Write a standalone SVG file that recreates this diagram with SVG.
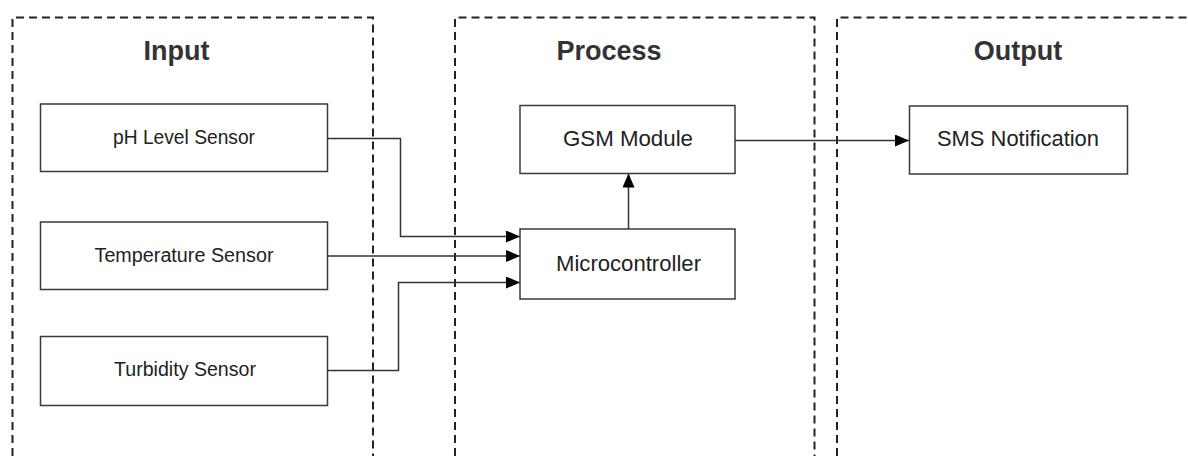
<svg xmlns="http://www.w3.org/2000/svg" width="1188" height="456" viewBox="0 0 1188 456">
  <style>
    .lane { fill: none; stroke: #222; stroke-width: 2; stroke-dasharray: 8 5; }
    .title { font-family: "Liberation Sans", Arial, sans-serif; font-weight: bold; font-size: 27px; fill: #333; text-anchor: middle; }
    .box { fill: #fff; stroke: #3a3a3a; stroke-width: 1.5; }
    .lbl { font-family: "Liberation Sans", Arial, sans-serif; fill: #222; text-anchor: middle; }
    .sm { font-size: 19.5px; }
    .lg { font-size: 22px; }
    .conn { fill: none; stroke: #333; stroke-width: 1.5; }
  </style>
  <defs>
    <marker id="arrow" viewBox="0 0 14 12" refX="14" refY="6" markerWidth="14" markerHeight="12" markerUnits="userSpaceOnUse" orient="auto">
      <path d="M0,0 L14,6 L0,12 z" fill="#000"/>
    </marker>
  </defs>
  <rect width="1188" height="456" fill="#fff"/>

  <g id="lanes">
    <g id="lane-input">
      <path class="lane" d="M12.5,456 V17.5 H373 V456"/>
      <text class="title" x="176.5" y="59.5">Input</text>
    </g>
    <g id="lane-process">
      <path class="lane" d="M455,456 V17.5 H814.5 V456"/>
      <text class="title" x="609" y="59.5">Process</text>
    </g>
    <g id="lane-output">
      <path class="lane" d="M837,456 V17.5 H1188"/>
      <text class="title" x="1018" y="59.5">Output</text>
    </g>
  </g>

  <g id="connectors">
    <path class="conn" d="M327,138.5 H400.5 V236.5 H520" marker-end="url(#arrow)"/>
    <path class="conn" d="M327,256 H520" marker-end="url(#arrow)"/>
    <path class="conn" d="M327,370.5 H398.5 V282.5 H520" marker-end="url(#arrow)"/>
    <path class="conn" d="M628.5,229 V173.5" marker-end="url(#arrow)"/>
    <path class="conn" d="M735,140.5 H909" marker-end="url(#arrow)"/>
  </g>

  <g id="node-ph">
    <rect class="box" x="40.5" y="104" width="287" height="67.5"/>
    <text class="lbl sm" x="184" y="144" textLength="142" lengthAdjust="spacingAndGlyphs">pH Level Sensor</text>
  </g>
  <g id="node-temp">
    <rect class="box" x="40.5" y="222" width="287" height="67.5"/>
    <text class="lbl sm" x="184" y="262" textLength="179" lengthAdjust="spacingAndGlyphs">Temperature Sensor</text>
  </g>
  <g id="node-turbidity">
    <rect class="box" x="40.5" y="336.5" width="287" height="69"/>
    <text class="lbl sm" x="185" y="376" textLength="142" lengthAdjust="spacingAndGlyphs">Turbidity Sensor</text>
  </g>
  <g id="node-gsm">
    <rect class="box" x="520" y="105.5" width="215" height="68"/>
    <text class="lbl lg" x="628" y="146" textLength="130" lengthAdjust="spacingAndGlyphs">GSM Module</text>
  </g>
  <g id="node-mcu">
    <rect class="box" x="520" y="229" width="215" height="70"/>
    <text class="lbl lg" x="628.5" y="271" textLength="145" lengthAdjust="spacingAndGlyphs">Microcontroller</text>
  </g>
  <g id="node-sms">
    <rect class="box" x="909.5" y="106" width="218" height="68"/>
    <text class="lbl lg" x="1018" y="146" textLength="162" lengthAdjust="spacingAndGlyphs">SMS Notification</text>
  </g>
</svg>
